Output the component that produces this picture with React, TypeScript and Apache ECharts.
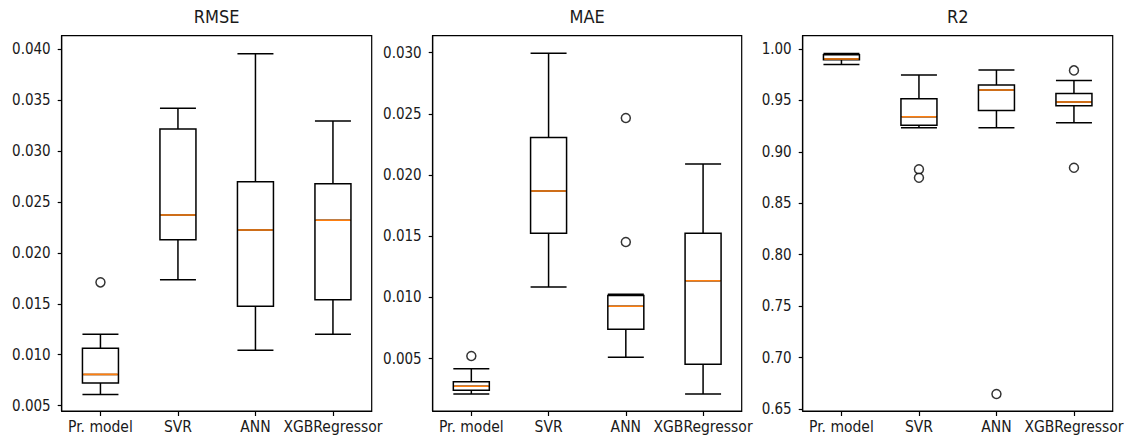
import React, { useEffect, useRef } from "react";
import * as echarts from "echarts";

const categories = ["Pr. model", "SVR", "ANN", "XGBRegressor"];
const panelTitles = ["RMSE", "MAE", "R2"];

// [min, Q1, median, Q3, max]
const rmseBoxes = [
  [0.00611, 0.00722, 0.00807, 0.01063, 0.012],
  [0.01736, 0.02129, 0.02371, 0.03215, 0.03418],
  [0.01043, 0.01475, 0.02224, 0.02698, 0.03954],
  [0.012, 0.0154, 0.02319, 0.02678, 0.03293],
];
const rmseOutliers = [[0, 0.0171]];
const rmseTicks = [0.005, 0.01, 0.015, 0.02, 0.025, 0.03, 0.035, 0.04];
const rmseRange = [0.00448, 0.0413];

const maeBoxes = [
  [0.00211, 0.00241, 0.00274, 0.00312, 0.00418],
  [0.01086, 0.01524, 0.0187, 0.02308, 0.02995],
  [0.00511, 0.0074, 0.00928, 0.01015, 0.01026],
  [0.00211, 0.00454, 0.01137, 0.01524, 0.0209],
];
const maeOutliers = [
  [0, 0.00522],
  [2, 0.02466],
  [2, 0.01453],
];
const maeTicks = [0.005, 0.01, 0.015, 0.02, 0.025, 0.03];
const maeRange = [0.00072, 0.03139];

const r2Boxes = [
  [0.98509, 0.98963, 0.99028, 0.99449, 0.99579],
  [0.92352, 0.92579, 0.93421, 0.95171, 0.97472],
  [0.92352, 0.94037, 0.96014, 0.965, 0.97958],
  [0.92838, 0.94491, 0.94847, 0.9569, 0.96954],
];
const r2Outliers = [
  [1, 0.883],
  [1, 0.8749],
  [2, 0.66458],
  [3, 0.97926],
  [3, 0.88463],
];
const r2Ticks = [0.65, 0.7, 0.75, 0.8, 0.85, 0.9, 0.95, 1.0];
const r2Range = [0.648, 1.013];

const FONT = "'DejaVu Sans Condensed', 'DejaVu Sans', sans-serif";
const TEXT = "#1a1a1a";
const BOX_W = 36;
const LW = 1.5;

const panels = [
  { boxes: rmseBoxes, outliers: rmseOutliers, ticks: rmseTicks, range: rmseRange, digits: 3, left: 61.7, width: 310 },
  { boxes: maeBoxes, outliers: maeOutliers, ticks: maeTicks, range: maeRange, digits: 3, left: 432.7, width: 309 },
  { boxes: r2Boxes, outliers: r2Outliers, ticks: r2Ticks, range: r2Range, digits: 2, left: 802.7, width: 310 },
];

export default function App() {
  const ref = useRef<HTMLDivElement>(null);
  useEffect(() => {
    if (!ref.current) return;
    const chart = echarts.init(ref.current, undefined, { renderer: "svg" });
    const grids: any[] = [];
    const xAxes: any[] = [];
    const yAxes: any[] = [];
    const series: any[] = [];
    const titles: any[] = [];
    panels.forEach((p, i) => {
      grids.push({
        left: p.left,
        top: 35.7,
        width: p.width,
        height: 375.3,
        show: true,
        borderColor: "#000",
        borderWidth: 1.2,
        backgroundColor: "transparent",
      });
      titles.push({
        text: panelTitles[i],
        left: p.left + p.width / 2,
        top: 7,
        textAlign: "center",
        padding: 0,
        textStyle: { fontFamily: FONT, fontSize: 18, fontWeight: "normal", color: TEXT },
      });
      xAxes.push({
        type: "category",
        gridIndex: i,
        data: categories,
        boundaryGap: true,
        axisLine: { show: true, lineStyle: { color: "#000", width: 1.2 } },
        axisTick: { show: true, alignWithLabel: true, length: 5, lineStyle: { color: "#000", width: 1.2 } },
        axisLabel: { fontFamily: FONT, fontSize: 15.5, color: TEXT, margin: 8, interval: 0 },
        splitLine: { show: false },
      });
      yAxes.push({
        type: "value",
        gridIndex: i,
        min: p.range[0],
        max: p.range[1],
        axisLine: { show: true, lineStyle: { color: "#000", width: 1.2 } },
        axisTick: { show: true, length: 4, lineStyle: { color: "#000", width: 1.2 }, customValues: p.ticks },
        axisLabel: {
          fontFamily: FONT,
          fontSize: 15,
          color: TEXT,
          margin: 11,
          customValues: p.ticks,
          formatter: (v: number) => v.toFixed(p.digits),
        },
        splitLine: { show: false },
      });
      series.push({
        type: "boxplot",
        xAxisIndex: i,
        yAxisIndex: i,
        data: p.boxes,
        boxWidth: [BOX_W, BOX_W],
        itemStyle: { color: "#fff", borderColor: "#000", borderWidth: LW },
        z: 2,
      });
      series.push({
        type: "custom",
        xAxisIndex: i,
        yAxisIndex: i,
        data: p.boxes.map((b, k) => [k, b[2]]),
        encode: { x: 0, y: 1 },
        z: 5,
        renderItem: (params: any, api: any) => {
          const c = api.coord([api.value(0), api.value(1)]);
          return {
            type: "line",
            shape: { x1: c[0] - BOX_W / 2 + 0.8, y1: c[1], x2: c[0] + BOX_W / 2 - 0.8, y2: c[1] },
            style: { stroke: "#ff7f0e", lineWidth: 1.6 },
          };
        },
      });
      series.push({
        type: "scatter",
        xAxisIndex: i,
        yAxisIndex: i,
        data: p.outliers,
        symbol: "circle",
        symbolSize: 9,
        itemStyle: { color: "#fff", borderColor: "#000", borderWidth: LW },
        z: 4,
      });
    });
    chart.setOption({
      animation: false,
      backgroundColor: "#fff",
      title: titles,
      grid: grids,
      xAxis: xAxes,
      yAxis: yAxes,
      series,
    });
    return () => chart.dispose();
  }, []);
  return (
    <div
      ref={ref}
      style={{ position: "fixed", left: 0, top: 0, width: 1127, height: 440 }}
    />
  );
}
